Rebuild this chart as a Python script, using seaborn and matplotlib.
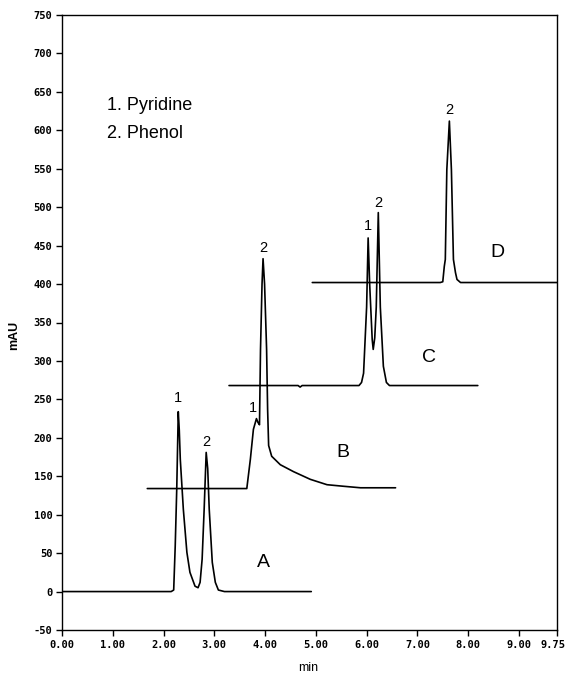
import matplotlib
matplotlib.use("Agg")
import matplotlib.pyplot as plt
import matplotlib.transforms as mtransforms
import seaborn as sns
import pandas as pd

# ---- data (time in min, signal in mAU) ----
a_time = [0.00, 2.15, 2.20, 2.23, 2.26, 2.29, 2.31, 2.33, 2.39, 2.46, 2.52, 2.62, 2.68,
          2.72, 2.76, 2.80, 2.84, 2.87, 2.90, 2.96, 3.02, 3.08, 3.20, 4.91]
a_mau = [0, 0, 2, 59, 133, 234, 210, 172, 107, 51, 25, 7, 5,
         12, 42, 107, 181, 160, 107, 38, 12, 2, 0, 0]

b_time = [1.68, 3.00, 3.64, 3.71, 3.77, 3.83, 3.86, 3.89, 3.91, 3.94, 3.96, 3.99, 4.03,
          4.05, 4.07, 4.13, 4.30, 4.56, 4.89, 5.22, 5.54, 5.88, 6.57]
b_mau = [134, 134, 134, 172, 211, 225, 220, 217, 315, 400, 433, 400, 315,
         237, 190, 176, 165, 156, 146, 139, 137, 135, 135]

c_time = [3.29, 4.65, 4.69, 4.73, 5.85, 5.90, 5.94, 6.00, 6.03, 6.06, 6.11, 6.13, 6.16,
          6.19, 6.23, 6.27, 6.33, 6.39, 6.45, 8.19]
c_mau = [268, 268, 266, 268, 268, 272, 284, 370, 460, 400, 328, 315, 330,
         370, 493, 370, 293, 272, 268, 268]

d_time = [4.93, 7.45, 7.50, 7.53, 7.55, 7.58, 7.63, 7.67, 7.71, 7.75, 7.78, 7.85, 9.75]
d_mau = [402, 402, 403, 423, 432, 549, 612, 549, 432, 415, 406, 402, 402]

trace_names = ["A", "B", "C", "D"]
trace_label_pos = [(3.96, 38), (5.54, 181), (7.22, 304), (8.58, 441)]

peak_labels = ["1", "2", "1", "2", "1", "2", "2"]
peak_label_pos = [(2.29, 252), (2.84, 195), (3.77, 239), (3.96, 447),
                  (6.03, 475), (6.23, 506), (7.63, 627)]

legend_lines = ["1. Pyridine", "2. Phenol"]

x_ticks = [0, 1, 2, 3, 4, 5, 6, 7, 8, 9, 9.75]
y_ticks = list(range(-50, 751, 50))

# ---- build table ----
frames = []
for name, t, v in zip(trace_names, [a_time, b_time, c_time, d_time],
                      [a_mau, b_mau, c_mau, d_mau]):
    frames.append(pd.DataFrame({"min": t, "mAU": v, "trace": name}))
df = pd.concat(frames, ignore_index=True)

sns.set_style("ticks")
plt.rcParams["font.family"] = ["Liberation Sans", "DejaVu Sans"]
plt.rcParams["text.color"] = "black"
plt.rcParams["axes.labelcolor"] = "black"
plt.rcParams["xtick.color"] = "black"
plt.rcParams["ytick.color"] = "black"

W, H = 567, 674
fig = plt.figure(figsize=(W / 100, H / 100), dpi=100)
ax = fig.add_axes([62 / W, (H - 630) / H, (557 - 62) / W, (630 - 15) / H])

for name in trace_names:
    sub = df[df["trace"] == name]
    sns.lineplot(data=sub, x="min", y="mAU", color="black", linewidth=1.2,
                 sort=False, estimator=None, ax=ax, legend=False)

ax.set_xlim(0, 9.75)
ax.set_ylim(-50, 750)
ax.set_xticks(x_ticks)
ax.set_xticklabels([f"{t:.2f}" for t in x_ticks],
                   fontfamily="DejaVu Sans Mono", fontweight="bold", fontsize=7.5)
ax.set_yticks(y_ticks)
ax.set_yticklabels([str(v) for v in y_ticks],
                   fontfamily="DejaVu Sans Mono", fontweight="bold", fontsize=7.5)
ax.tick_params(direction="out", length=4, width=1, colors="black", pad=3)
last = ax.get_xticklabels()[-1]
last.set_transform(last.get_transform() +
                   mtransforms.ScaledTranslation(-4 / 100, 0, fig.dpi_scale_trans))
for s in ax.spines.values():
    s.set_visible(True)
    s.set_linewidth(1.0)
    s.set_color("black")

ax.set_xlabel("min", fontsize=9, color="black")
ax.xaxis.set_label_coords((308 - 62) / (557 - 62), -(662 - 630) / (630 - 15))
ax.set_ylabel("mAU", fontsize=9, fontweight="bold", color="black")
ax.yaxis.set_label_coords(-(62 - 20) / (557 - 62), (630 - 335) / (630 - 15))

for txt, (x, y) in zip(trace_names, trace_label_pos):
    ax.text(x, y, txt, fontsize=14, ha="center", va="center", color="black")

for txt, (x, y) in zip(peak_labels, peak_label_pos):
    ax.text(x, y, txt, fontsize=10.5, ha="center", va="center", color="black")

ax.text(0.89, 632, legend_lines[0], fontsize=13, ha="left", va="center", color="black")
ax.text(0.89, 596, legend_lines[1], fontsize=13, ha="left", va="center", color="black")

fig.savefig("out.png", dpi=100)
